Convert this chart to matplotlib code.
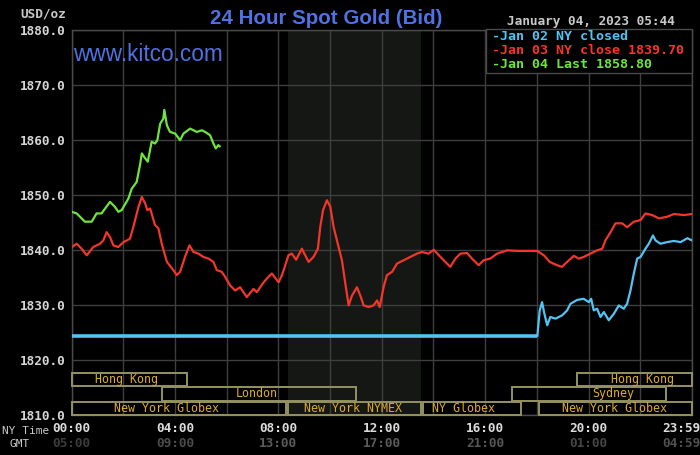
import matplotlib
matplotlib.use("Agg")
import matplotlib.pyplot as plt
from matplotlib.patches import Rectangle

# ---------------- data ----------------
green_h = [0.01, 0.20, 0.52, 0.78, 0.97, 1.16, 1.49, 1.68, 1.81, 1.94, 2.20, 2.33, 2.52,
           2.65, 2.72, 2.85, 2.95, 3.10, 3.23, 3.32, 3.43, 3.55, 3.59, 3.69, 3.81, 4.01,
           4.20, 4.33, 4.59, 4.85, 5.04, 5.17, 5.36, 5.49, 5.58, 5.68, 5.73]
green_v = [1846.9, 1846.6, 1845.1, 1845.1, 1846.6, 1846.6, 1848.7, 1847.8, 1846.9, 1847.2,
           1849.3, 1851.1, 1852.3, 1855.4, 1857.5, 1856.6, 1856.0, 1859.6, 1859.3, 1859.9,
           1862.9, 1863.8, 1865.4, 1862.6, 1861.4, 1861.1, 1859.9, 1861.1, 1862.0, 1861.4,
           1861.7, 1861.4, 1860.8, 1859.3, 1858.4, 1859.0, 1858.8]

red_h = [0.01, 0.20, 0.39, 0.59, 0.84, 1.10, 1.23, 1.36, 1.49, 1.62, 1.81, 2.01, 2.14, 2.26,
         2.39, 2.59, 2.72, 2.85, 2.93, 3.04, 3.23, 3.36, 3.49, 3.69, 3.94, 4.07, 4.20, 4.39,
         4.56, 4.72, 4.91, 5.10, 5.30, 5.49, 5.62, 5.81, 5.94, 6.14, 6.33, 6.52, 6.78, 7.04,
         7.17, 7.43, 7.62, 7.75, 8.01, 8.14, 8.27, 8.39, 8.52, 8.69, 8.91, 9.17, 9.36, 9.53,
         9.62, 9.73, 9.88, 10.01, 10.14, 10.33, 10.46, 10.59, 10.72, 10.85, 11.04, 11.17,
         11.30, 11.49, 11.68, 11.82, 11.92, 12.07, 12.20, 12.40, 12.59, 12.85, 13.10, 13.36,
         13.56, 13.81, 14.01, 14.27, 14.46, 14.65, 14.85, 15.04, 15.30, 15.49, 15.75, 15.94,
         16.20, 16.46, 16.85, 17.24, 18.01, 18.27, 18.50, 18.78, 18.97, 19.17, 19.43, 19.62,
         19.81, 20.07, 20.33, 20.53, 20.65, 20.85, 21.04, 21.30, 21.49, 21.75, 22.01, 22.20,
         22.46, 22.72, 23.04, 23.30, 23.69, 24.0]
red_v = [1840.5, 1841.1, 1840.2, 1839.0, 1840.5, 1841.1, 1841.7, 1843.2, 1842.3, 1840.8,
         1840.5, 1841.4, 1841.7, 1842.0, 1844.1, 1847.8, 1849.6, 1848.4, 1847.2, 1847.5,
         1844.5, 1843.9, 1841.1, 1837.8, 1836.3, 1835.4, 1836.0, 1838.7, 1840.8, 1839.6,
         1839.3, 1838.7, 1838.4, 1837.8, 1836.3, 1836.0, 1835.1, 1833.5, 1832.6, 1833.2,
         1831.4, 1832.9, 1832.3, 1834.1, 1835.1, 1835.7, 1834.1, 1835.4, 1837.2, 1839.0,
         1839.3, 1838.2, 1840.2, 1837.8, 1838.7, 1840.2, 1844.1, 1847.2, 1849.0, 1847.8,
         1844.1, 1840.5, 1838.1, 1833.9, 1829.9, 1831.7, 1833.2, 1831.7, 1829.9, 1829.6,
         1829.9, 1830.8, 1829.6, 1833.2, 1835.4, 1836.0, 1837.5, 1838.1, 1838.7, 1839.3,
         1839.6, 1839.3, 1840.0, 1838.7, 1837.8, 1836.9, 1838.4, 1839.3, 1839.4, 1838.4,
         1837.2, 1838.1, 1838.4, 1839.3, 1839.9, 1839.8, 1839.8, 1839.0, 1837.8, 1837.2,
         1836.9, 1837.8, 1838.9, 1838.4, 1838.7, 1839.3, 1839.9, 1840.2, 1841.7, 1843.2,
         1844.8, 1844.8, 1844.1, 1845.1, 1845.4, 1846.6, 1846.3, 1845.7, 1846.0, 1846.5,
         1846.3, 1846.5]

blue_h = [0.0, 18.02, 18.11, 18.20, 18.29, 18.40, 18.52, 18.72, 18.98, 19.17, 19.30, 19.56,
          19.81, 20.01, 20.10, 20.20, 20.33, 20.46, 20.59, 20.78, 20.98, 21.17, 21.36, 21.49,
          21.62, 21.75, 21.88, 22.01, 22.20, 22.33, 22.49, 22.59, 22.78, 23.04, 23.30, 23.56,
          23.82, 24.0]
blue_v = [1824.4, 1824.4, 1829.0, 1830.5, 1828.4, 1826.3, 1827.8, 1827.5, 1828.1, 1829.0,
          1830.2, 1830.9, 1831.1, 1830.5, 1831.1, 1829.0, 1829.3, 1827.8, 1828.7, 1827.2,
          1828.4, 1829.9, 1829.3, 1830.2, 1832.6, 1835.7, 1838.4, 1838.7, 1840.2, 1841.1,
          1842.6, 1841.7, 1841.1, 1841.4, 1841.6, 1841.4, 1842.1, 1841.7]

y_ticks = [1810, 1820, 1830, 1840, 1850, 1860, 1870, 1880]
ny_ticks = [0, 4, 8, 12, 16, 20, 24]
ny_labels = ["00:00", "04:00", "08:00", "12:00", "16:00", "20:00", "23:59"]
gmt_labels = ["05:00", "09:00", "13:00", "17:00", "21:00", "01:00", "04:59"]
gmt_colors = ["#3c3c3c", "#4c4c4c", "#5c5c5c", "#5c5c5c", "#575757", "#464646", "#505050"]

sess_names = ["Hong Kong", "London", "New York Globex", "New York NYMEX", "NY Globex",
              "Sydney", "Hong Kong", "New York Globex"]
sess_start = [0.0, 3.5, 0.0, 8.36, 13.58, 17.03, 19.55, 18.07]
sess_end = [4.48, 11.0, 8.3, 13.52, 17.39, 22.98, 24.0, 24.0]
sess_row = [0, 1, 2, 2, 2, 1, 0, 2]
sess_label_x = [2.14, 7.17, 3.66, 10.9, 15.15, 20.96, 22.07, 21.0]

legend_texts = ["-Jan 02 NY closed", "-Jan 03 NY close 1839.70", "-Jan 04 Last 1858.80"]

# ---------------- style ----------------
BLUE = "#52c3f2"
RED = "#f2362a"
GREEN = "#6fe43c"
GRID = "#3e3e3e"
SESS_EDGE = "#94925f"
SESS_TEXT = "#dcac2c"
TITLE_BLUE = "#5071e2"
MONO = "DejaVu Sans Mono"

W, H = 700, 455
fig = plt.figure(figsize=(7, 4.55), dpi=100, facecolor="black")
L, R, T, B = 71.5, 692.0, 29.5, 415.0
ax = fig.add_axes([L / W, 1 - B / H, (R - L) / W, (B - T) / H])
ax.set_facecolor("black")
ax.set_xlim(0, 24)
ax.set_ylim(1810, 1880)

# shaded pit session
ax.axvspan(8.36, 13.52, color="#141714", zorder=0, lw=0)

ax.set_xticks(range(0, 25, 2))
ax.set_xticklabels([])
ax.set_yticks(y_ticks)
ax.set_yticklabels([f"{v:.1f}" for v in y_ticks], family=MONO, fontweight="bold",
                   fontsize=9.2, color="#d6d6d6")
ax.tick_params(length=0, pad=4)
ax.grid(True, color=GRID, lw=1.0, zorder=0.5)
ax.set_axisbelow(True)
for s in ax.spines.values():
    s.set_color("#4a4a4a")
    s.set_linewidth(1.0)

# series
ax.plot(blue_h[:2], blue_v[:2], color=BLUE, lw=2.6, zorder=3, solid_capstyle="butt")
ax.plot(blue_h[1:], blue_v[1:], color=BLUE, lw=1.6, zorder=3)
ax.plot(red_h, red_v, color=RED, lw=1.6, zorder=3)
ax.plot(green_h, green_v, color=GREEN, lw=1.6, zorder=3)

# session bars
row_bounds = [(1815.3, 1817.7), (1812.6, 1815.05), (1810.05, 1812.45)]
for name, s0, s1, r, lx in zip(sess_names, sess_start, sess_end, sess_row, sess_label_x):
    y0, y1 = row_bounds[r]
    ax.add_patch(Rectangle((s0, y0), s1 - s0, y1 - y0, fill=False, ec=SESS_EDGE,
                           lw=1.4, zorder=4, clip_on=False))
    ax.text(lx, (y0 + y1) / 2, name, ha="center", va="center", family=MONO,
            fontsize=8.4, color=SESS_TEXT, zorder=5)

# x labels (two rows)
for i, (t, lab, glab, gc) in enumerate(zip(ny_ticks, ny_labels, gmt_labels, gmt_colors)):
    ha = "center"
    dx = 0
    if i == len(ny_ticks) - 1:
        ha = "right"
        dx = 6.0
    ax.annotate(lab, xy=(t, 0), xycoords=("data", "axes fraction"),
                xytext=(dx, -9.4), textcoords="offset points", ha=ha, va="center",
                family=MONO, fontweight="bold", fontsize=9.2, color="#dcdcdc",
                annotation_clip=False)
    ax.annotate(glab, xy=(t, 0), xycoords=("data", "axes fraction"),
                xytext=(dx, -20.2), textcoords="offset points", ha=ha, va="center",
                family=MONO, fontweight="bold", fontsize=9.2, color=gc,
                annotation_clip=False)

fig.text(2 / W, 1 - 431 / H, "NY Time", ha="left", va="center", family=MONO,
         fontsize=8.0, color="#c8c8c8")
fig.text(10 / W, 1 - 444 / H, "GMT", ha="left", va="center", family=MONO,
         fontsize=8.0, color="#c8c8c8")

# titles
fig.text(326.5 / W, 1 - 23.5 / H, "24 Hour Spot Gold (Bid)", ha="center", va="baseline",
         family="Liberation Sans", fontweight="bold", fontsize=14.8, color=TITLE_BLUE)
fig.text(73 / W, 1 - 61 / H, "www.kitco.com", ha="left", va="baseline",
         family="Liberation Sans", fontsize=16.3, color=TITLE_BLUE, zorder=6)
fig.text(20 / W, 1 - 17.5 / H, "USD/oz", ha="left", va="baseline", family=MONO,
         fontweight="bold", fontsize=9.2, color="#c8c8c8")
fig.text(507 / W, 1 - 25.5 / H, "January 04, 2023 05:44", ha="left", va="baseline",
         family=MONO, fontweight="bold", fontsize=9.2, color="#c8c8c8")

# legend box
lx0 = (486 - L) / (R - L)
ly0 = (B - 73) / (B - T)
ax.add_patch(Rectangle((lx0, ly0), 1 - lx0, 1 - ly0, transform=ax.transAxes,
                       fc="black", ec="#4a4a4a", lw=1.0, zorder=6, clip_on=False))
for txt, col, yy in zip(legend_texts, [BLUE, RED, GREEN], [36.7, 50.7, 64.3]):
    fig.text(492 / W, 1 - yy / H, txt, ha="left", va="center", family=MONO,
             fontweight="bold", fontsize=9.6, color=col, zorder=7)

fig.savefig("out.png", dpi=100, facecolor="black")
